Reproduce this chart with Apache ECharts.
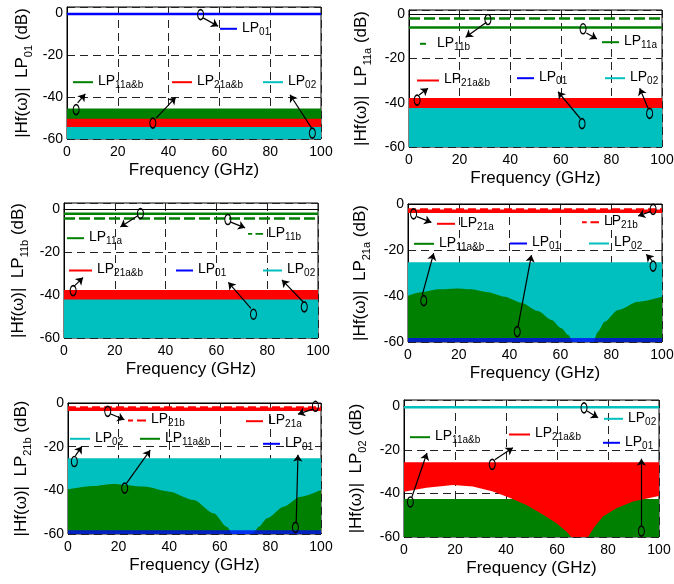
<!DOCTYPE html>
<html><head><meta charset="utf-8">
<script src="https://cdn.jsdelivr.net/npm/echarts@6/dist/echarts.min.js"></script>
<style>html,body{margin:0;padding:0;background:#fff}#c{width:674px;height:584px}</style>
</head><body><div id="c"></div>
<script>
const FONT = "'Liberation Sans', Arial, Helvetica, sans-serif";
const GREEN = '#008000', RED = '#ff0000', CYAN = '#00bfbf', BLUE = '#0000ff';

// ---------- data ----------
const xTicks = [0, 20, 40, 60, 80, 100];
const yTicks = [-60, -40, -20, 0];
const yAxisModes = ['01', '11a', '11b', '21a', '21b', '02'];
const flatFreq = [0, 100];

// Panel 1: LP01 launched
const p1LP01 = [-0.3, -0.3];
const p1LP11abTop = [-45.5, -45.5];
const p1LP21abTop = [-50.3, -50.3];
const p1LP02Top = [-54.3, -54.3];

// Panel 2: LP11a launched
const p2LP11b = [-1.8, -1.8];
const p2LP11a = [-5.9, -5.9];
const p2LP21abTop = [-37.8, -37.8];
const p2LP02Top = [-42.3, -42.3];
const p2LP01Top = [-59.2, -59.2];

// Panel 3: LP11b launched
const p3LP11a = [-2.0, -2.0];
const p3LP11b = [-4.2, -4.2];
const p3LP21abTop = [-37.6, -37.6];
const p3LP02Top = [-42.0, -42.0];
const p3LP01Top = [-59.2, -59.2];

// Panel 4: LP21a launched
const p4LP21b = [-2.3, -2.3];
const p4LP21a = [-3.2, -3.2];
const p4LP02Top = [-25.3, -25.3];
const p4DomeFreq = [0, 5.2, 11.8, 19.7, 25, 31.5, 38.1, 44.6, 51.2, 56.5, 60.4, 63, 65, 72.8, 74.8, 77.4, 82.7, 90.6, 100];
const p4LP11abTop = [-39.9, -38.4, -37.1, -36.7, -37.1, -38.4, -40.3, -42.9, -46.5, -50.4, -54, -56.9, -60, -60, -55.5, -51.2, -46.1, -42.5, -40.3];
const p4LP01Top = [-58.3, -58.3];

// Panel 5: LP21b launched
const p5LP21b = [-2.0, -2.0];
const p5LP21a = [-2.9, -2.9];
const p5LP02Top = [-25.3, -25.3];
const p5DomeFreq = [0, 10, 18, 30, 40, 49.7, 57.6, 62.8, 65, 73, 75.4, 78.7, 85.2, 91.8, 100];
const p5LP11abTop = [-39.5, -38, -37.1, -38.3, -40.6, -44.4, -50.5, -56.7, -60, -60, -56.7, -52.8, -47.5, -42.9, -39.8];
const p5LP01Top = [-58.3, -58.3];

// Panel 6: LP02 launched
const p6LP02 = [-0.3, -0.3];
const p6LP11abTop = [-42.5, -42.5];
const p6BandFreq = [0, 8.8, 19.2, 27, 34.9, 41.4, 48, 54.6, 59.8, 63.7, 65.6, 72.2, 74.8, 78, 83.3, 89.8, 99, 100];
const p6LP21abLow = [-39.2, -37.3, -36.1, -36.8, -39.1, -41.9, -45.3, -49.8, -53.7, -57.5, -60, -60, -55.2, -50.6, -46.8, -43.7, -41.4, -41.2];
const p6LP21abTop = [-25.6, -25.6, -25.6, -25.6, -25.6, -25.6, -25.6, -25.6, -25.6, -25.6, -25.6, -25.6, -25.6, -25.6, -25.6, -25.6, -25.6, -25.6];
const p6LP01Top = [-59.2, -59.2];

// annotations: arrows [x1,y1,x2,y2] and ellipse centres [x,y] (data units)
const arrows = [
  [[53.6, -2.2, 59.5, -6.2], [4.2, -42.8, 7.2, -38.5], [35.1, -50, 42.8, -40.1], [96.3, -54.8, 87.8, -38.9]],
  [[30.6, -3.5, 22.4, -10.3], [70.1, -8.4, 74.3, -11.1], [4.0, -36.5, 7.5, -33.4], [67.7, -47.1, 58.9, -35], [94.5, -42.6, 91.2, -33.4]],
  [[29.2, -2.8, 22.2, -8.2], [65.4, -5.8, 71.3, -8.6], [3.8, -36, 7.5, -31.8], [73.6, -46.2, 64.7, -34], [94.1, -43.1, 85.8, -32.9]],
  [[3.5, -5.5, 9.2, -8], [95.4, -3.3, 90.6, -5.2], [5.6, -39.6, 10.1, -21.4], [43.3, -53.3, 48.6, -22.2], [96.1, -24.6, 93.8, -21.9]],
  [[16.7, -4.9, 22.3, -7.7], [96.8, -2.8, 90.9, -5.1], [2.9, -24.2, 5.5, -19.9], [23.1, -36.8, 32.5, -21.6], [90.2, -54.7, 90.9, -23.7]],
  [[71.8, -2.1, 76.1, -5.2], [3.1, -41.6, 9, -21.4], [35.6, -24.5, 42.7, -19], [93.1, -54.7, 93.1, -24]]
];
const ellipses = [
  [[52.6, -0.6], [3.6, -46], [33.8, -52.4], [96.6, -57.2]],
  [[31.2, -2.3], [68.8, -6.5], [3.2, -38.8], [68.4, -49.4], [95.1, -44.8]],
  [[30.1, -1.9], [64.5, -4.7], [3.6, -37.9], [74.6, -48.9], [94.6, -45.5]],
  [[2.2, -4.3], [96.5, -2.3], [6.2, -42], [43, -55.5], [96.5, -27]],
  [[15.7, -3.8], [97.8, -1.5], [2.5, -26.8], [22.4, -39], [89.9, -57]],
  [[70.6, -0.6], [2.5, -43.9], [34.6, -26.6], [93.1, -57.3]]
];

// ---------- layout ----------
const grids = [
  {left: 67, top: 7, width: 254, height: 132, max: 3, nameGap: 33},
  {left: 409, top: 10, width: 253, height: 137, max: 2, nameGap: 36},
  {left: 64, top: 203, width: 254, height: 135, max: 3, nameGap: 34},
  {left: 408, top: 204, width: 254, height: 138, max: 0, nameGap: 36},
  {left: 68, top: 403, width: 253, height: 131, max: 0, nameGap: 35},
  {left: 404, top: 400, width: 255, height: 137, max: 3, nameGap: 36}
];

const COLORS = {'LP01': BLUE, 'LP02': CYAN, 'LP11a&b': GREEN, 'LP21a&b': RED, 'LP11a': GREEN, 'LP11b': GREEN, 'LP21a': RED, 'LP21b': RED};
const DASHED = {'LP11b': true, 'LP21b': true};

// legend placements [name, left px, icon centre y px, sample width, text pad]
const legendPlaces = [
  ['LP01', 220, 28.3, 17], ['LP11a&b', 73, 81.7, 20], ['LP21a&b', 172, 81.7, 20], ['LP02', 263, 81.7, 20],
  ['LP11b', 420, 43.3, 6, 6], ['LP11a', 602, 41.7, 17], ['LP21a&b', 417, 80, 22], ['LP01', 517, 77.7, 17], ['LP02', 605, 77.7, 20],
  ['LP11a', 67, 237.7, 17], ['LP11b', 248, 233.3, 15], ['LP21a&b', 69, 270, 23], ['LP01', 176, 270, 17], ['LP02', 263, 270, 19],
  ['LP21a', 437, 223.3, 18], ['LP21b', 582, 221.7, 17], ['LP11a&b', 414, 243.3, 20], ['LP01', 510, 243, 17], ['LP02', 589, 243, 20],
  ['LP21b', 128, 420, 18], ['LP21a', 246, 420.7, 17], ['LP02', 70, 438.3, 20], ['LP11a&b', 140, 438.3, 20], ['LP01', 263, 443.3, 17],
  ['LP02', 604, 418.3, 19], ['LP11a&b', 410, 436.7, 20], ['LP21a&b', 509, 434, 21], ['LP01', 603, 442.3, 17]
];

// ---------- helpers ----------
function pts(xs, ys) { return xs.map((x, i) => [x, ys[i]]); }
function area(g, name, xs, ys, color, smooth, opacity) {
  return {type: 'line', name, xAxisIndex: g, yAxisIndex: g, data: pts(xs, ys),
    symbol: 'none', showSymbol: false, silent: true, animation: false,
    smooth: smooth ? 0.25 : false, smoothMonotone: 'x',
    lineStyle: {width: 0, opacity: 0}, areaStyle: {color, opacity: opacity || 1, origin: 'start'}};
}
function line(g, name, xs, ys, color, width, dash) {
  return {type: 'line', name, xAxisIndex: g, yAxisIndex: g, data: pts(xs, ys), z: 4,
    symbol: 'none', showSymbol: false, silent: true, animation: false,
    lineStyle: {color, width, type: dash || 'solid', cap: 'butt'}};
}
function band(g, name, xs, low, top, color) {
  return {type: 'custom', name, xAxisIndex: g, yAxisIndex: g, z: 3, silent: true, animation: false, clip: true,
    data: xs.map((x, i) => [x, low[i], top[i]]),
    encode: {x: 0, y: [1, 2]},
    renderItem: function (params, api) {
      if (params.dataIndex !== 0) return null;
      const upper = xs.map((x, i) => api.coord([x, top[i]]));
      const lower = xs.map((x, i) => api.coord([x, low[i]])).reverse();
      return {type: 'polygon', shape: {points: upper.concat(lower)}, style: {fill: color, stroke: null}};
    }};
}
function annotations(g) {
  return {type: 'line', name: '_ann' + g, xAxisIndex: g, yAxisIndex: g, data: [], z: 6, silent: true, animation: false,
    markLine: {silent: true, animation: false, symbol: ['none', 'arrow'], symbolSize: 7,
      lineStyle: {color: '#000', width: 1.2, type: 'solid'}, label: {show: false},
      emphasis: {disabled: true},
      data: arrows[g].map(a => [{coord: [a[0], a[1]]}, {coord: [a[2], a[3]]}])},
    markPoint: {silent: true, animation: false, symbol: 'circle', symbolSize: [6, 10],
      itemStyle: {color: 'rgba(0,0,0,0)', borderColor: '#000', borderWidth: 1.3}, label: {show: false},
      data: ellipses[g].map(e => ({coord: e}))}};
}

const series = [
  // panel 1
  area(0, 'LP11a&b', flatFreq, p1LP11abTop, GREEN),
  area(0, 'LP21a&b', flatFreq, p1LP21abTop, RED),
  area(0, 'LP02', flatFreq, p1LP02Top, CYAN),
  line(0, 'LP01', flatFreq, p1LP01, BLUE, 2.5),
  // panel 2
  area(1, 'LP01', flatFreq, p2LP01Top, BLUE),
  area(1, 'LP21a&b', flatFreq, p2LP21abTop, RED),
  area(1, 'LP02', flatFreq, p2LP02Top, CYAN),
  line(1, 'LP11b', flatFreq, p2LP11b, GREEN, 2.5, [11, 4]),
  line(1, 'LP11a', flatFreq, p2LP11a, GREEN, 2.5),
  // panel 3
  area(2, 'LP01', flatFreq, p3LP01Top, BLUE),
  area(2, 'LP21a&b', flatFreq, p3LP21abTop, RED),
  area(2, 'LP02', flatFreq, p3LP02Top, CYAN),
  line(2, 'LP11a', flatFreq, p3LP11a, GREEN, 2.5),
  line(2, 'LP11b', flatFreq, p3LP11b, GREEN, 2.5, [11, 4]),
  // panel 4
  area(3, 'LP02', flatFreq, p4LP02Top, CYAN),
  area(3, 'LP11a&b', p4DomeFreq, p4LP11abTop, GREEN, true),
  area(3, 'LP01', flatFreq, p4LP01Top, BLUE, false, 0.75),
  line(3, 'LP21a', flatFreq, p4LP21a, RED, 3.5),
  line(3, 'LP21b', flatFreq, p4LP21b, RED, 2, [8, 4]),
  // panel 5
  area(4, 'LP02', flatFreq, p5LP02Top, CYAN),
  area(4, 'LP11a&b', p5DomeFreq, p5LP11abTop, GREEN, true),
  area(4, 'LP01', flatFreq, p5LP01Top, BLUE, false, 0.75),
  line(4, 'LP21a', flatFreq, p5LP21a, RED, 3.5),
  line(4, 'LP21b', flatFreq, p5LP21b, RED, 2, [8, 4]),
  // panel 6
  area(5, 'LP01', flatFreq, p6LP01Top, BLUE),
  area(5, 'LP11a&b', flatFreq, p6LP11abTop, GREEN),
  band(5, 'LP21a&b', p6BandFreq, p6LP21abLow, p6LP21abTop, RED),
  line(5, 'LP02', flatFreq, p6LP02, CYAN, 2.5)
];
for (let g = 0; g < 6; g++) series.push(annotations(g));

const richLegend = {
  t: {fontSize: 14, fontFamily: FONT, color: '#000', lineHeight: 16, verticalAlign: 'top'},
  s: {fontSize: 10, fontFamily: FONT, color: '#000', lineHeight: 10, verticalAlign: 'bottom', padding: [7, 0, 0, 0]}
};
const legends = legendPlaces.map(p => {
  const [name, left, cy, w, pad] = p;
  const dashed = DASHED[name];
  return {
    left, top: cy - 8.5, padding: 0, itemGap: 0, selectedMode: false,
    itemWidth: w, itemHeight: 2,
    data: [{name, icon: dashed ? (w > 14 ? 'path://M0,0h5v2h-5z M9,0h9v2h-9z' : 'rect') : 'rect',
      itemStyle: {color: COLORS[name], opacity: 1, borderWidth: 0}}],
    formatter: n => '{t|LP}{s|' + n.slice(2) + '}',
    textStyle: {fontFamily: FONT, fontSize: 14, color: '#000', rich: richLegend, padding: [0, 0, 0, pad || 0]}
  };
});

const richName = {
  t: {fontSize: 17, fontFamily: FONT, color: '#000', lineHeight: 20, verticalAlign: 'top'},
  s: {fontSize: 11, fontFamily: FONT, color: '#000', lineHeight: 11, verticalAlign: 'bottom', padding: [12, 0, 0, 0]}
};

const option = {
  backgroundColor: '#fff',
  animation: false,
  grid: grids.map(g => ({left: g.left, top: g.top, width: g.width, height: g.height, show: true,
    borderColor: '#000', borderWidth: 1, backgroundColor: 'transparent', containLabel: false, outerBoundsMode: 'none'})),
  xAxis: grids.map((g, i) => ({type: 'value', gridIndex: i, min: xTicks[0], max: xTicks[xTicks.length - 1], interval: xTicks[1] - xTicks[0],
    name: 'Frequency (GHz)', nameLocation: 'middle', nameGap: 23,
    nameTextStyle: {fontFamily: FONT, fontSize: 17, color: '#000'},
    axisLine: {show: true, lineStyle: {color: '#000', width: 1}}, axisTick: {show: false},
    axisLabel: {fontFamily: FONT, fontSize: 14, color: '#000', margin: 6},
    splitLine: {show: true, lineStyle: {color: '#222', width: 1, type: [8, 5]}}})),
  yAxis: grids.map((g, i) => ({type: 'value', gridIndex: i, min: yTicks[0], max: g.max, interval: yTicks[1] - yTicks[0],
    name: '{t|\u007CHf(\u03C9)\u007C  LP}{s|' + yAxisModes[i] + '}{t| (dB)}', nameLocation: 'middle', nameRotate: 90, nameGap: g.nameGap,
    nameTextStyle: {fontFamily: FONT, fontSize: 17, color: '#000', rich: richName},
    axisLine: {show: true, lineStyle: {color: '#000', width: 1}}, axisTick: {show: false},
    axisLabel: {fontFamily: FONT, fontSize: 14, color: '#000', margin: 4, showMaxLabel: true,
      formatter: v => (yTicks.indexOf(v) >= 0 ? String(v) : '')},
    splitLine: {show: true, lineStyle: {color: '#222', width: 1, type: [8, 5]}}})),
  legend: legends,
  series
};

const chart = echarts.init(document.getElementById('c'), null, {renderer: 'canvas'});
chart.setOption(option);
</script>
</body></html>
